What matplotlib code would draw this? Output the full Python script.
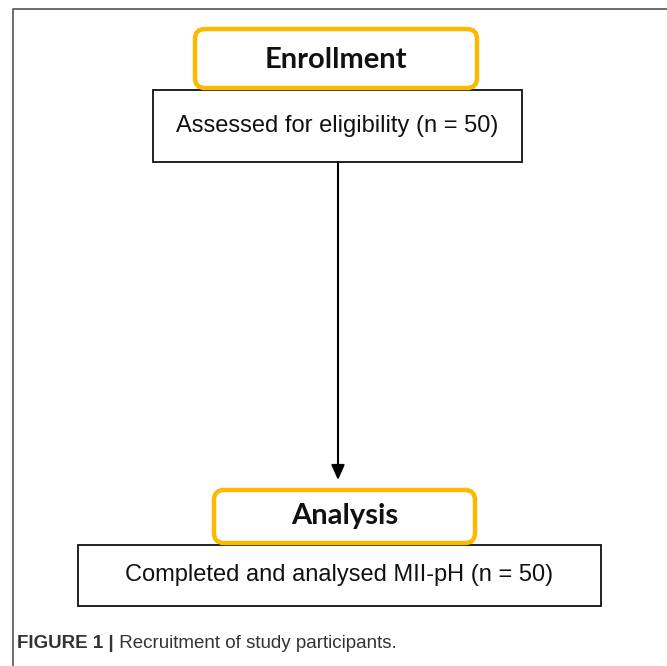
import matplotlib
matplotlib.use('Agg')
import matplotlib.pyplot as plt
from matplotlib.patches import FancyBboxPatch, Rectangle

# --- flowchart content ---
stage_labels = ['Enrollment', 'Analysis']
box_labels = ['Assessed for eligibility (n = 50)',
              'Completed and analysed MII-pH (n = 50)']
caption_bold = 'FIGURE 1 |'
caption_text = ' Recruitment of study participants.'

ORANGE = '#FBBA00'

W, H = 667, 666
fig = plt.figure(figsize=(W / 100, H / 100), dpi=100)
ax = fig.add_axes([0, 0, 1, 1])
ax.set_xlim(0, W)
ax.set_ylim(H, 0)
ax.axis('off')

# outer frame (left and top)
ax.plot([13, 13, W], [H, 9, 9], color='#555555', lw=1.2)

# layout in pixel coords: (x0, y0, x1, y1), plus text y position
stage_boxes = [(195, 29, 477, 88), (214, 490, 475, 543)]
stage_text_y = [60, 516]
rect_boxes = [(153, 90, 522, 162), (78, 545, 601, 606)]

for (x0, y0, x1, y1), ty, (rx0, ry0, rx1, ry1), stage, label in zip(
        stage_boxes, stage_text_y, rect_boxes, stage_labels, box_labels):
    ax.add_patch(Rectangle((rx0, ry0), rx1 - rx0, ry1 - ry0, fill=False,
                           edgecolor='#111111', lw=1.3, zorder=1))
    ax.text((rx0 + rx1) / 2, (ry0 + ry1) / 2, label, ha='center',
            va='center', fontsize=17, family='Liberation Sans',
            color='#111111')
    ax.add_patch(FancyBboxPatch((x0, y0), x1 - x0, y1 - y0,
                                boxstyle='round,pad=0,rounding_size=10',
                                facecolor='white', edgecolor=ORANGE,
                                lw=3.2, zorder=2))
    ax.text((x0 + x1) / 2, ty, stage, ha='center',
            va='center', fontsize=21, fontweight='bold', family='Lato',
            color='#111111', zorder=3)

# arrow between stages
ax.annotate('', xy=(338, 480), xytext=(338, 162),
            arrowprops=dict(arrowstyle='-|>,head_width=0.4,head_length=0.9',
                            color='black', lw=1.5, shrinkA=0, shrinkB=0))

# caption
t = ax.text(17, 643, caption_bold, ha='left', va='center', fontsize=13.5,
            fontweight='bold', family='Liberation Sans', color='#333333')
fig.canvas.draw()
bb = t.get_window_extent()
x_end = ax.transData.inverted().transform((bb.x1, bb.y0))[0]
ax.text(x_end, 643, caption_text, ha='left', va='center', fontsize=13.5,
        family='Liberation Sans', color='#333333')

fig.savefig('out.png', dpi=100)
